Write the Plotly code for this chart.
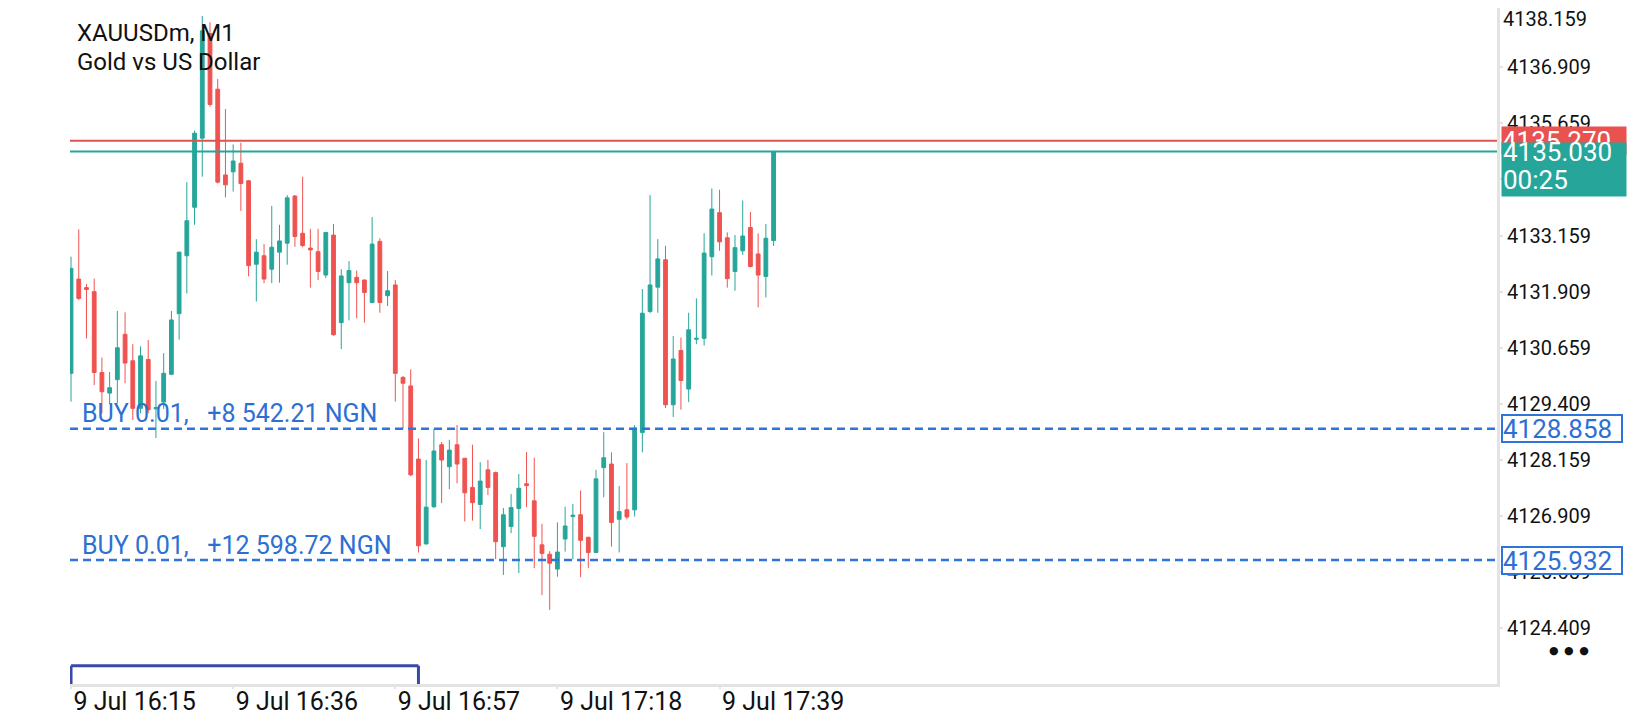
import plotly.graph_objects as go
import pandas as pd

# XAUUSDm M1 bars (first bar 9 Jul 16:15)
start_time = "2026-07-09 16:15"
opens = [4130.09, 4132.19, 4132.00, 4131.91, 4130.11, 4129.65, 4129.95, 4130.96, 4130.37, 4129.31,
         4130.40, 4129.30, 4129.45, 4130.07, 4131.42, 4132.71, 4133.79, 4135.33, 4137.66, 4136.42,
         4134.51, 4134.58, 4134.77, 4134.38, 4132.52, 4132.71, 4132.41, 4132.79, 4132.99, 4134.04,
         4133.21, 4132.88, 4132.80, 4132.28, 4133.17, 4131.22, 4132.11, 4132.23, 4132.17, 4131.67,
         4133.03, 4131.82, 4132.06, 4130.00, 4129.81, 4128.18, 4126.29, 4127.12, 4128.50, 4128.01,
         4128.50, 4128.20, 4127.55, 4127.17, 4127.94, 4127.88, 4126.23, 4126.68, 4127.08, 4127.63,
         4127.25, 4126.27, 4126.06, 4125.73, 4126.40, 4126.90, 4126.94, 4126.44, 4126.10, 4127.99,
         4128.07, 4126.84, 4127.05, 4127.05, 4128.77, 4131.47, 4132.01, 4132.62, 4129.39, 4130.60,
         4129.74, 4130.85, 4130.87, 4132.69, 4133.67, 4133.11, 4132.36, 4132.82, 4133.34, 4132.75,
         4132.25, 4133.05]
highs = [4132.69, 4133.30, 4132.08, 4132.20, 4130.44, 4130.12, 4131.48, 4131.45, 4130.74, 4130.69,
         4130.83, 4129.92, 4130.54, 4131.48, 4132.80, 4134.35, 4135.50, 4138.05, 4137.91, 4136.65,
         4135.98, 4135.19, 4135.23, 4134.40, 4133.08, 4132.97, 4133.82, 4133.40, 4134.06, 4134.06,
         4134.47, 4133.31, 4133.31, 4133.23, 4133.42, 4132.41, 4132.59, 4132.38, 4132.18, 4133.57,
         4133.10, 4132.37, 4132.17, 4130.03, 4130.18, 4128.64, 4128.16, 4128.85, 4128.56, 4128.61,
         4128.94, 4128.20, 4128.50, 4128.11, 4128.16, 4127.90, 4127.09, 4127.40, 4127.85, 4128.34,
         4128.21, 4126.74, 4126.13, 4126.77, 4127.12, 4127.18, 4127.48, 4126.44, 4127.94, 4128.78,
         4128.33, 4127.58, 4128.09, 4128.94, 4131.97, 4134.06, 4133.08, 4132.93, 4130.92, 4130.89,
         4131.44, 4131.76, 4133.21, 4134.21, 4134.18, 4133.23, 4133.17, 4133.94, 4133.69, 4133.21,
         4133.42, 4135.03]
lows = [4129.46, 4131.72, 4130.87, 4129.83, 4129.20, 4129.40, 4129.42, 4129.87, 4129.05, 4129.20,
        4129.20, 4128.65, 4129.30, 4130.05, 4130.84, 4131.87, 4133.40, 4134.47, 4136.03, 4134.32,
        4134.01, 4134.14, 4133.71, 4132.25, 4131.69, 4132.10, 4132.10, 4132.11, 4132.51, 4132.91,
        4132.90, 4132.00, 4132.17, 4132.21, 4130.93, 4130.63, 4131.27, 4131.32, 4131.22, 4131.65,
        4131.44, 4131.59, 4129.46, 4128.85, 4127.80, 4126.10, 4126.28, 4127.09, 4127.20, 4127.51,
        4127.64, 4126.79, 4126.81, 4126.62, 4127.38, 4125.95, 4125.60, 4126.53, 4125.64, 4127.11,
        4125.75, 4125.15, 4124.82, 4125.56, 4126.12, 4125.95, 4125.55, 4125.75, 4126.10, 4127.33,
        4126.23, 4126.10, 4126.84, 4126.90, 4128.33, 4131.43, 4131.44, 4129.32, 4129.12, 4129.28,
        4129.45, 4130.74, 4130.71, 4132.27, 4132.82, 4132.00, 4131.93, 4132.73, 4132.45, 4131.56,
        4131.78, 4132.93]
closes = [4132.43, 4131.76, 4131.96, 4130.11, 4129.68, 4129.77, 4130.66, 4130.32, 4129.31, 4130.48,
          4129.28, 4129.33, 4130.09, 4131.28, 4132.79, 4133.49, 4135.44, 4137.72, 4136.08, 4134.35,
          4134.29, 4134.82, 4134.32, 4132.49, 4132.79, 4132.19, 4132.90, 4133.04, 4134.00, 4133.14,
          4132.94, 4132.84, 4132.36, 4133.23, 4130.95, 4132.26, 4132.38, 4132.11, 4131.89, 4132.97,
          4131.67, 4131.93, 4130.09, 4129.87, 4127.83, 4126.25, 4127.11, 4128.36, 4128.16, 4128.38,
          4128.07, 4127.43, 4127.21, 4127.69, 4127.55, 4126.34, 4126.94, 4127.10, 4127.53, 4127.59,
          4126.46, 4126.08, 4125.86, 4126.11, 4126.69, 4126.93, 4126.37, 4126.10, 4127.74, 4128.21,
          4126.77, 4127.01, 4126.89, 4128.87, 4131.43, 4132.06, 4132.64, 4129.39, 4130.41, 4129.93,
          4131.06, 4130.87, 4132.77, 4133.75, 4133.02, 4132.20, 4132.89, 4133.15, 4132.47, 4132.28,
          4133.10, 4135.03]

bid = 4135.030
ask = 4135.270
timer = "00:25"
positions = [4128.858, 4125.932]
position_labels = ["BUY 0.01,\u00a0\u00a0 +8 542.21 NGN", "BUY 0.01,\u00a0\u00a0 +12 598.72 NGN"]
price_ticks = [4124.409, 4125.659, 4126.909, 4128.159, 4129.409, 4130.659,
               4131.909, 4133.159, 4134.409, 4135.659, 4136.909]
top_price_tick = 4138.159
time_ticks = ["16:15", "16:36", "16:57", "17:18", "17:39"]

TEAL = "#26a69a"
RED = "#ef5350"
BLUE = "#2f74dc"
TEXT_BLUE = "#2e6fd4"
GREY = "#e3e3e3"
FONT = "Roboto"
BOX_W = 124

times = pd.date_range(start_time, periods=len(opens), freq="1min")
day = times[0].strftime("%Y-%m-%d")

fig = go.Figure()
fig.add_trace(go.Candlestick(
    x=times, open=opens, high=highs, low=lows, close=closes,
    increasing=dict(line=dict(color=TEAL, width=1), fillcolor=TEAL),
    decreasing=dict(line=dict(color=RED, width=1), fillcolor=RED),
    whiskerwidth=0, showlegend=False, hoverinfo="skip"))

# ask / bid lines
fig.add_hline(y=ask, line=dict(color="#de5450", width=2))
fig.add_hline(y=bid, line=dict(color=TEAL, width=2))

# open positions
for p, txt in zip(positions, position_labels):
    fig.add_hline(y=p, line=dict(color=BLUE, width=2.5, dash="8px,5px"))
    fig.add_annotation(xref="paper", x=0, xanchor="left", xshift=10, y=p, yanchor="middle",
                       yshift=15, text=txt, showarrow=False,
                       font=dict(family=FONT, size=25, color=TEXT_BLUE))
    fig.add_annotation(xref="paper", x=1, xanchor="left", xshift=4, y=p, yanchor="middle",
                       text=f"{p:.3f}", showarrow=False, width=BOX_W - 6, height=25, align="left",
                       bgcolor="white", bordercolor=BLUE, borderwidth=2, borderpad=0,
                       font=dict(family=FONT, size=26, color=TEXT_BLUE))

# ask box, partly covered by the bid box
fig.add_annotation(xref="paper", x=1, xanchor="left", xshift=4, y=ask, yanchor="middle",
                   text=f"{ask:.3f}", showarrow=False, width=BOX_W, height=27, align="left",
                   bgcolor="#e8534f", borderpad=0, font=dict(family=FONT, size=26, color="white"))
# bid box with the bar timer
fig.add_annotation(xref="paper", x=1, xanchor="left", xshift=4, y=bid, yanchor="top", yshift=10,
                   text=" ", showarrow=False, width=BOX_W, height=53, bgcolor=TEAL, borderpad=0)
for txt, dy in ((f"{bid:.3f}", 0), (timer, -28)):
    fig.add_annotation(xref="paper", x=1, xanchor="left", xshift=4, y=bid, yanchor="middle",
                       yshift=dy, text=txt, showarrow=False, width=BOX_W, align="left",
                       font=dict(family=FONT, size=26, color="white"))

# top scale label sits right at the edge, keep it whole
fig.add_annotation(xref="paper", x=1, xanchor="left", xshift=4, y=top_price_tick, yref="y",
                   yanchor="top", yshift=6, text=f"{top_price_tick:.3f}", showarrow=False,
                   font=dict(family=FONT, size=20, color="#111111"))

# symbol caption
for line, dy in (("XAUUSDm, M1", -25), ("Gold vs US Dollar", -54)):
    fig.add_annotation(xref="paper", yref="paper", x=0, y=1, xanchor="left", yanchor="middle",
                       xshift=5, yshift=dy, text=line, showarrow=False,
                       font=dict(family=FONT, size=24, color="#111111"))

# period box along the time scale
box_color = "#3949ab"
fig.add_shape(type="line", xref="x", yref="paper", x0=times[0], x1=times[45], y0=0.027, y1=0.027,
              line=dict(color=box_color, width=3))
for t in (times[0], times[45]):
    fig.add_shape(type="line", xref="x", yref="paper", x0=t, x1=t, y0=0, y1=0.027,
                  line=dict(color=box_color, width=3))

fig.add_annotation(xref="paper", yref="paper", x=1.066, y=0.049, yanchor="middle",
                   text="\u25cf\u2002\u25cf\u2002\u25cf", showarrow=False,
                   font=dict(family="DejaVu Sans", size=11, color="#111111"))

x_start = times[0] - pd.Timedelta(seconds=8)
x_end = times[0] + pd.Timedelta(minutes=184.7)
fig.update_layout(
    width=1632, height=712,
    margin=dict(l=62, r=143, t=0, b=36, pad=0, autoexpand=False),
    paper_bgcolor="white", plot_bgcolor="white",
    font=dict(family=FONT, size=20, color="#111111"),
    showlegend=False,
    xaxis=dict(type="date", range=[x_start, x_end], rangeslider=dict(visible=False),
               automargin=False,
               showgrid=False, zeroline=False, showline=True, linecolor=GREY, linewidth=3,
               mirror=True, ticks="outside", ticklen=2, tickwidth=2, tickcolor=GREY,
               ticklabelstandoff=-7,
               tickvals=[f"{day} {t}" for t in time_ticks], tickformat="%-d %b %H:%M",
               ticklabelposition="outside right", tickfont=dict(family=FONT, size=25, color="#111111")),
    yaxis=dict(side="right", range=[4123.17, 4138.229], tickvals=price_ticks, tickformat=".3f",
               automargin=False,
               showgrid=False, zeroline=False, showline=True, linecolor=GREY, linewidth=3,
               ticks="outside", ticklen=3, tickwidth=2, tickcolor=GREY,
               tickfont=dict(family=FONT, size=20, color="#111111")),
)

fig.write_html("out.html")
